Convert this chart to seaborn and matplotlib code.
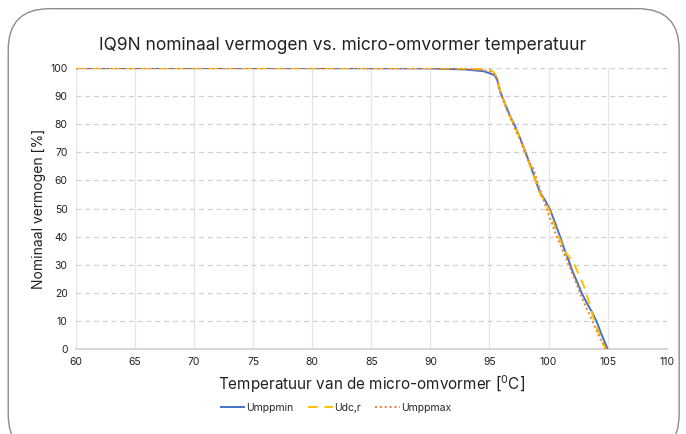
import numpy as np
import pandas as pd
import matplotlib
matplotlib.use("Agg")
import matplotlib.pyplot as plt
import seaborn as sns
from matplotlib.patches import FancyBboxPatch

# Data
umppmin_x = [60, 80, 90, 93, 94.5, 95.0, 95.4, 95.62, 95.9, 96.3, 96.76, 97.2, 97.6, 98.0, 98.45, 98.9, 99.3, 99.7, 100.14, 100.55, 100.98, 101.3, 101.69, 102.0, 102.4, 102.8, 103.24, 103.66, 104.08, 104.5, 105.0]
umppmin_y = [100, 100, 99.9, 99.5, 98.9, 98.2, 97.5, 96.4, 91.7, 87.5, 82.8, 79.0, 75.0, 70.6, 65.6, 60.0, 55.5, 53.0, 49.5, 45.0, 40.0, 36.0, 31.7, 28.0, 24.0, 20.0, 16.3, 13.3, 9.7, 5.0, 0.0]

udcr_x = [60, 80, 90, 93, 94.5, 95.0, 95.3, 95.6, 95.9, 96.3, 96.76, 97.2, 97.6, 98.0, 98.45, 98.9, 99.3, 99.7, 100.1, 100.5, 101.0, 101.5, 102.1, 102.5, 102.96, 103.4, 103.8, 104.3, 104.8]
udcr_y = [100, 100, 100, 99.8, 99.6, 99.4, 98.8, 97.0, 92.0, 87.5, 82.5, 78.8, 74.8, 70.5, 65.0, 60.0, 55.0, 52.5, 49.0, 44.0, 38.5, 34.0, 31.0, 27.0, 22.8, 17.0, 11.0, 5.0, 0.2]

umppmax_x = [60, 80, 90, 93, 94.5, 95.0, 95.4, 95.7, 96.0, 96.4, 96.8, 97.2, 97.6, 98.0, 98.4, 98.7, 99.1, 99.5, 99.9, 100.3, 100.7, 101.2, 101.7, 102.2, 102.7, 103.1, 103.5, 103.9, 104.4, 104.9]
umppmax_y = [100, 100, 100, 99.7, 99.3, 98.8, 97.8, 95.2, 90.5, 86.0, 82.0, 78.0, 74.5, 70.0, 66.0, 64.4, 59.0, 54.0, 49.0, 44.5, 40.0, 35.0, 30.0, 25.0, 19.5, 15.5, 12.0, 8.0, 3.5, 0.0]

series_names = ["Umppmin", "Udc,r", "Umppmax"]
colors = ["#4472C4", "#FFC000", "#ED7D31"]

x_ticks = [60, 65, 70, 75, 80, 85, 90, 95, 100, 105, 110]
y_ticks = [0, 10, 20, 30, 40, 50, 60, 70, 80, 90, 100]

title = "IQ9N nominaal vermogen vs. micro-omvormer temperatuur"
xlabel = "Temperatuur van de micro-omvormer [$^{0}$C]"
ylabel = "Nominaal vermogen [%]"

sns.set_theme(style="white")
plt.rcParams['font.family'] = ['Inter', 'DejaVu Sans']
plt.rcParams['mathtext.fontset'] = 'custom'
plt.rcParams['mathtext.rm'] = 'Inter'

fig = plt.figure(figsize=(6.86, 4.34), dpi=100)
fig.patch.set_facecolor("white")
border = FancyBboxPatch((0.012, -0.05), 0.978, 1.03, boxstyle="round,pad=0,rounding_size=0.06",
                        transform=fig.transFigure, facecolor="none", edgecolor="#8c8c8c",
                        linewidth=1.0, mutation_aspect=686/434, zorder=-1)
fig.patches.append(border)

ax = fig.add_axes([0.1108, 0.196, 0.861, 0.647])
ax.set_facecolor("none")

dfs = [
    pd.DataFrame({"x": umppmin_x, "y": umppmin_y}),
    pd.DataFrame({"x": udcr_x, "y": udcr_y}),
    pd.DataFrame({"x": umppmax_x, "y": umppmax_y}),
]
styles = [(0, ()), (0, (5, 3.5)), (0, (1, 1.5))]
for df, name, c, ls in zip(dfs, series_names, colors, styles):
    sns.lineplot(data=df, x="x", y="y", ax=ax, color=c, linewidth=1.4,
                 linestyle=ls, label=name, sort=False, zorder=3)

ax.set_xlim(60, 110)
ax.set_ylim(0, 100)
ax.set_xticks(x_ticks)
ax.set_yticks(y_ticks)
ax.tick_params(axis="both", labelsize=7.5, length=0, pad=6, colors="#222222")
ax.grid(axis="y", color="#d0d0d0", linestyle=(0, (4, 3)), linewidth=0.9)
ax.grid(axis="x", color="#e6e6e6", linestyle="-", linewidth=0.9)
for s in ["top", "right", "left"]:
    ax.spines[s].set_visible(False)
ax.spines["bottom"].set_color("#d0d0d0")
ax.set_axisbelow(True)

ax.set_xlabel(xlabel, fontsize=11, color="#222222", labelpad=4)
ax.set_ylabel(ylabel, fontsize=10, color="#222222", labelpad=3)
fig.text(0.5, 0.895, title, ha="center", va="center", fontsize=12.5, color="#222222")

leg = ax.legend(loc="center", bbox_to_anchor=(0.44, -0.21), ncol=3, frameon=False,
                fontsize=7.5, handlelength=2.4, columnspacing=1.4, handletextpad=0.1)

fig.savefig("out.png", dpi=100, facecolor="white")
